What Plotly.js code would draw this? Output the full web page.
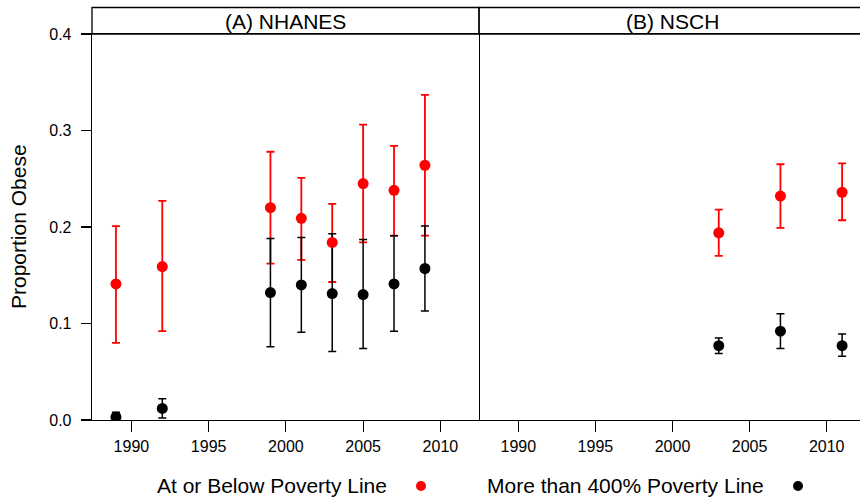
<!DOCTYPE html>
<html>
<head>
<meta charset="utf-8">
<script src="https://cdn.plot.ly/plotly-3.0.1.min.js"></script>
<style>html,body{margin:0;padding:0;background:#fff;}#chart{width:860px;height:500px;}</style>
</head>
<body>
<div id="chart"></div>
<script>
// ---- data ----
var nhanesYears = [1989, 1992, 1999, 2001, 2003, 2005, 2007, 2009];
var nhanesPovEst = [0.141, 0.159, 0.220, 0.209, 0.184, 0.245, 0.238, 0.264];
var nhanesPovHi  = [0.201, 0.227, 0.278, 0.251, 0.224, 0.306, 0.284, 0.337];
var nhanesPovLo  = [0.080, 0.092, 0.162, 0.166, 0.143, 0.184, 0.191, 0.191];
var nhanesRichEst = [0.003, 0.012, 0.132, 0.140, 0.131, 0.130, 0.141, 0.157];
var nhanesRichHi  = [0.008, 0.022, 0.188, 0.189, 0.193, 0.187, 0.191, 0.201];
var nhanesRichLo  = [0.000, 0.002, 0.076, 0.091, 0.071, 0.074, 0.092, 0.113];

var nschYears = [2003, 2007, 2011];
var nschPovEst = [0.194, 0.232, 0.236];
var nschPovHi  = [0.218, 0.265, 0.266];
var nschPovLo  = [0.170, 0.199, 0.207];
var nschRichEst = [0.077, 0.092, 0.077];
var nschRichHi  = [0.085, 0.110, 0.089];
var nschRichLo  = [0.069, 0.074, 0.066];

var panelTitles = ["(A) NHANES", "(B) NSCH"];
var seriesNames = ["At or Below Poverty Line", "More than 400% Poverty Line"];
var xTicks = [1990, 1995, 2000, 2005, 2010];
var yTicks = [0, 0.1, 0.2, 0.3, 0.4];
var yTickText = ["0.0", "0.1", "0.2", "0.3", "0.4"];

// ---- helpers ----
function diff(a, b) { return a.map(function (v, i) { return v - b[i]; }); }
var RED = "#ff0000", BLACK = "#000000";
var FONT = "Liberation Sans, Arial, Helvetica, sans-serif";

function errTrace(x, est, hi, lo, color, xa, ya, w) {
  return {
    type: "scatter", mode: "markers", x: x, y: est, xaxis: xa, yaxis: ya,
    marker: {size: 1, opacity: 0, color: color}, showlegend: false, hoverinfo: "skip",
    error_y: {type: "data", symmetric: false, array: diff(hi, est), arrayminus: diff(est, lo),
              color: color, thickness: w, width: 4}
  };
}
function ptTrace(x, est, color, xa, ya) {
  return {
    type: "scatter", mode: "markers", x: x, y: est, xaxis: xa, yaxis: ya,
    marker: {size: 11, color: color, line: {width: 0}}, showlegend: false
  };
}

var data = [
  errTrace(nhanesYears, nhanesPovEst, nhanesPovHi, nhanesPovLo, RED, "x", "y", 1.8),
  errTrace(nhanesYears, nhanesRichEst, nhanesRichHi, nhanesRichLo, BLACK, "x", "y", 1.5),
  ptTrace(nhanesYears, nhanesPovEst, RED, "x", "y"),
  ptTrace(nhanesYears, nhanesRichEst, BLACK, "x", "y"),
  errTrace(nschYears, nschPovEst, nschPovHi, nschPovLo, RED, "x2", "y2", 1.8),
  errTrace(nschYears, nschRichEst, nschRichHi, nschRichLo, BLACK, "x2", "y2", 1.5),
  ptTrace(nschYears, nschPovEst, RED, "x2", "y2"),
  ptTrace(nschYears, nschRichEst, BLACK, "x2", "y2")
];

var W = 860, H = 500;
var L = 92, MID = 479, TOP = 34, BOT = 420, STRIPTOP = 7.5;
function px(v) { return v / W; }
function py(v) { return (H - v) / H; }

var xCommon = {
  tickvals: xTicks, ticks: "outside", ticklen: 11, tickwidth: 1.2, tickcolor: "#000",
  showline: true, mirror: true, linecolor: "#000", linewidth: 1.3,
  showgrid: false, zeroline: false, tickfont: {size: 16, color: "#000", family: FONT}
};

var layout = {
  width: W, height: H, margin: {l: 0, r: 0, t: 0, b: 0},
  paper_bgcolor: "#fff", plot_bgcolor: "#fff", showlegend: false,
  font: {family: FONT, color: "#000"},
  xaxis: Object.assign({}, xCommon, {domain: [px(L), px(MID)], range: [1987.45, 2012.5], anchor: "y"}),
  xaxis2: Object.assign({}, xCommon, {domain: [px(MID), 1], range: [1987.45, 2012.16], anchor: "y2"}),
  yaxis: {
    domain: [py(BOT), py(TOP)], range: [0, 0.4], anchor: "x",
    tickvals: yTicks, ticktext: yTickText, ticks: "outside", ticklen: 10, tickwidth: 1.2, tickcolor: "#000",
    showline: true, mirror: true, linecolor: "#000", linewidth: 1.3,
    showgrid: false, zeroline: false, tickfont: {size: 16, color: "#000", family: FONT},
    ticklabelstandoff: 6
  },
  yaxis2: {
    domain: [py(BOT), py(TOP)], range: [0, 0.4], anchor: "x2",
    showticklabels: false, ticks: "", showline: false, showgrid: false, zeroline: false
  },
  shapes: [
    {type: "rect", xref: "paper", yref: "paper", x0: px(L), x1: px(MID), y0: py(TOP), y1: py(STRIPTOP),
     line: {color: "#000", width: 1.3}, fillcolor: "rgba(0,0,0,0)"},
    {type: "rect", xref: "paper", yref: "paper", x0: px(MID), x1: 1.02, y0: py(TOP), y1: py(STRIPTOP),
     line: {color: "#000", width: 1.3}, fillcolor: "rgba(0,0,0,0)"},
    {type: "circle", xref: "paper", yref: "paper", x0: px(416), x1: px(426), y0: py(491), y1: py(481),
     line: {width: 0}, fillcolor: RED},
    {type: "circle", xref: "paper", yref: "paper", x0: px(793), x1: px(803), y0: py(491), y1: py(481),
     line: {width: 0}, fillcolor: BLACK}
  ],
  annotations: [
    {text: panelTitles[0], xref: "paper", yref: "paper", x: px((L + MID) / 2), y: py(21.5),
     xanchor: "center", yanchor: "middle", showarrow: false, font: {size: 21, family: FONT, color: "#000"}},
    {text: panelTitles[1], xref: "paper", yref: "paper", x: px((MID + 860 + 5) / 2), y: py(21.5),
     xanchor: "center", yanchor: "middle", showarrow: false, font: {size: 21, family: FONT, color: "#000"}},
    {text: "Proportion Obese", xref: "paper", yref: "paper", x: px(19), y: py((TOP + BOT) / 2),
     xanchor: "center", yanchor: "middle", textangle: -90, showarrow: false,
     font: {size: 21, family: FONT, color: "#000"}},
    {text: seriesNames[0], xref: "paper", yref: "paper", x: px(155), y: py(485),
     xanchor: "left", yanchor: "middle", showarrow: false, font: {size: 21, family: FONT, color: "#000"}},
    {text: seriesNames[1], xref: "paper", yref: "paper", x: px(485), y: py(485),
     xanchor: "left", yanchor: "middle", showarrow: false, font: {size: 21, family: FONT, color: "#000"}}
  ]
};

Plotly.newPlot("chart", data, layout, {displayModeBar: false, staticPlot: true});
</script>
</body>
</html>
